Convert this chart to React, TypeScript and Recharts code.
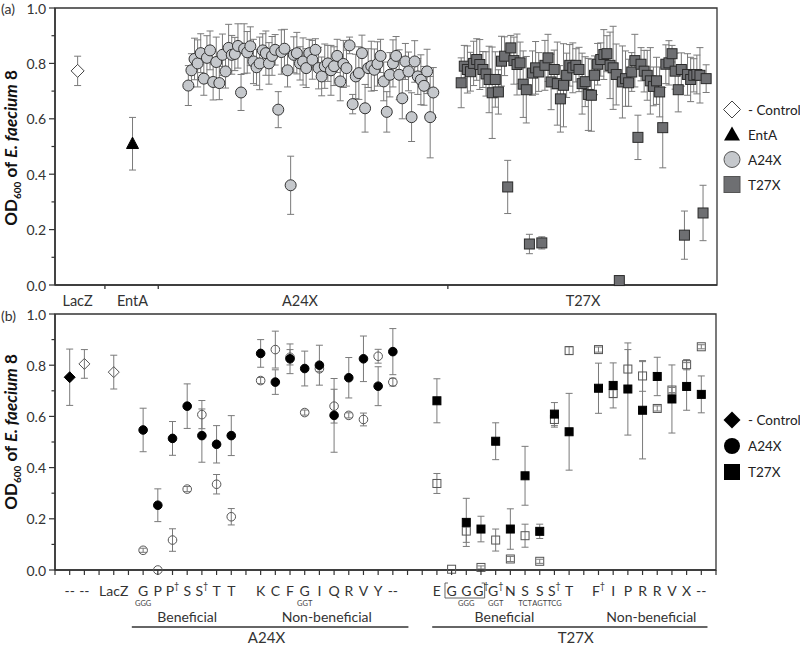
import React from 'react';
import { ScatterChart, Scatter, XAxis, YAxis, ErrorBar, ReferenceArea, Legend } from 'recharts';

const FONT = 'Lato, "Open Sans", sans-serif';
const AXIS = '#333';
const BAR = '#7a7a7a';

// ---------- Panel (a) ----------
const aControlX = [7.3];
const aControlY = [0.773];
const aControlErr = [0.053];
const aEntAX = [25];
const aEntAY = [0.51];
const aEntAErr = [0.095];
const a24xStart = 43;
const t27xStart = 131;
const a24xValues = [
  0.72, 0.775, 0.816, 0.8, 0.837, 0.745, 0.82, 0.847, 0.733, 0.805,
  0.729, 0.831, 0.771, 0.856, 0.831, 0.834, 0.863, 0.695, 0.853, 0.84,
  0.862, 0.807, 0.786, 0.8, 0.847, 0.837, 0.8, 0.827, 0.849, 0.633,
  0.841, 0.853, 0.775, 0.36, 0.831, 0.837, 0.8, 0.807, 0.783, 0.837,
  0.813, 0.849, 0.783, 0.753, 0.79, 0.8, 0.775, 0.79, 0.827, 0.735,
  0.798, 0.783, 0.865, 0.653, 0.753, 0.765, 0.837, 0.638, 0.783, 0.79,
  0.777, 0.798, 0.827, 0.735, 0.625, 0.759, 0.8, 0.827, 0.759, 0.674,
  0.807, 0.771, 0.606, 0.807, 0.753, 0.741, 0.719, 0.771, 0.606, 0.695,
];
const a24xErrors = [
  0.072, 0.06, 0.075, 0.085, 0.07, 0.06, 0.08, 0.07, 0.065, 0.09,
  0.06, 0.075, 0.06, 0.085, 0.07, 0.06, 0.08, 0.065, 0.09, 0.075,
  0.07, 0.08, 0.065, 0.095, 0.06, 0.08, 0.075, 0.07, 0.055, 0.065,
  0.08, 0.07, 0.06, 0.105, 0.065, 0.075, 0.06, 0.085, 0.07, 0.05,
  0.07, 0.04, 0.075, 0.07, 0.08, 0.065, 0.09, 0.07, 0.06, 0.07,
  0.085, 0.065, 0.03, 0.035, 0.08, 0.095, 0.065, 0.086, 0.07, 0.09,
  0.075, 0.08, 0.06, 0.07, 0.073, 0.08, 0.085, 0.07, 0.09, 0.074,
  0.065, 0.07, 0.088, 0.075, 0.065, 0.09, 0.07, 0.08, 0.147, 0.09,
];
const t27xValues = [
  0.73, 0.79, 0.778, 0.77, 0.8, 0.814, 0.796, 0.778, 0.762, 0.742,
  0.694, 0.742, 0.697, 0.808, 0.826, 0.354, 0.856, 0.81, 0.796, 0.802,
  0.725, 0.705, 0.148, 0.765, 0.784, 0.769, 0.152, 0.793, 0.82, 0.733,
  0.778, 0.727, 0.672, 0.721, 0.757, 0.793, 0.784, 0.793, 0.778, 0.727,
  0.734, 0.688, 0.685, 0.757, 0.797, 0.814, 0.832, 0.835, 0.793, 0.784,
  0.76, 0.016, 0.733, 0.745, 0.73, 0.769, 0.81, 0.533, 0.797, 0.772,
  0.757, 0.737, 0.717, 0.737, 0.697, 0.568, 0.797, 0.802, 0.835, 0.772,
  0.705, 0.778, 0.18, 0.76, 0.742, 0.757, 0.76, 0.757, 0.26, 0.745,
];
const t27xErrors = [
  0.09, 0.075, 0.085, 0.07, 0.08, 0.075, 0.09, 0.065, 0.08, 0.12,
  0.165, 0.1, 0.08, 0.09, 0.07, 0.096, 0.045, 0.085, 0.11, 0.075,
  0.12, 0.12, 0.035, 0.08, 0.095, 0.07, 0.022, 0.09, 0.085, 0.1,
  0.07, 0.15, 0.12, 0.15, 0.08, 0.075, 0.09, 0.06, 0.08, 0.11,
  0.09, 0.13, 0.13, 0.07, 0.075, 0.06, 0.09, 0.065, 0.12, 0.15,
  0.11, 0.008, 0.13, 0.1, 0.085, 0.07, 0.095, 0.08, 0.06, 0.075,
  0.09, 0.12, 0.07, 0.085, 0.09, 0.145, 0.07, 0.08, 0.03, 0.065,
  0.08, 0.06, 0.087, 0.075, 0.08, 0.06, 0.07, 0.1, 0.1, 0.05,
];
const aXMax = 213.5;
const aTickValues = [7.3, 16.1, 25, 33.3, 79, 126.7, 170.3];
const aTickLabels = ['LacZ', '', 'EntA', '', 'A24X', '', 'T27X'];
const yTicks = [0, 0.1, 0.2, 0.3, 0.4, 0.5, 0.6, 0.7, 0.8, 0.9, 1.0];

// ---------- Panel (b) ----------
const bCtrlFilledX = [1];
const bCtrlFilledY = [0.753];
const bCtrlFilledErr = [0.11];
const bCtrlOpenX = [2, 4];
const bCtrlOpenY = [0.805, 0.773];
const bCtrlOpenErr = [0.056, 0.066];

const bA24X = [6, 7, 8, 9, 10, 11, 12, 14, 15, 16, 17, 18, 19, 20, 21, 22, 23];
const bA24FilledY = [0.547, 0.253, 0.514, 0.64, 0.525, 0.491, 0.525, 0.846, 0.734, 0.825, 0.787, 0.8, 0.604, 0.751, 0.825, 0.718, 0.853];
const bA24FilledErr = [0.085, 0.064, 0.066, 0.087, 0.104, 0.073, 0.078, 0.054, 0.048, 0.058, 0.068, 0.078, 0.144, 0.079, 0.089, 0.076, 0.09];
const bA24OpenY = [0.077, 0.0, 0.117, 0.316, 0.607, 0.335, 0.208, 0.74, 0.861, 0.831, 0.615, 0.786, 0.64, 0.604, 0.588, 0.835, 0.734];
const bA24OpenErr = [0.008, 0.0, 0.044, 0.01, 0.055, 0.038, 0.032, 0.012, 0.072, 0.03, 0.01, 0.01, 0.066, 0.01, 0.025, 0.027, 0.015];

const bT27FilledX = [26, 28, 29, 30, 31, 32, 33, 34, 35, 37, 38, 39, 40, 41, 42, 43, 44];
const bT27FilledY = [0.661, 0.186, 0.16, 0.503, 0.16, 0.368, 0.151, 0.609, 0.54, 0.71, 0.721, 0.707, 0.624, 0.756, 0.668, 0.717, 0.686];
const bT27FilledErr = [0.086, 0.094, 0.05, 0.072, 0.079, 0.115, 0.028, 0.045, 0.15, 0.098, 0.088, 0.18, 0.19, 0.075, 0.133, 0.093, 0.072];
const bT27OpenX = [26, 27, 28, 29, 30, 31, 32, 33, 34, 35, 37, 38, 39, 40, 41, 42, 43, 44];
const bT27OpenY = [0.338, 0.003, 0.152, 0.01, 0.117, 0.043, 0.134, 0.034, 0.588, 0.857, 0.861, 0.689, 0.785, 0.758, 0.631, 0.703, 0.802, 0.872];
const bT27OpenErr = [0.039, 0, 0.044, 0.006, 0.043, 0.01, 0.045, 0.008, 0.03, 0.015, 0.01, 0.015, 0.076, 0.06, 0.01, 0.01, 0.02, 0.008];

const bXMax = 45;
const bTickLabels = [
  '', '--', '--', '', 'LacZ', '', 'G', 'P', 'P†', 'S', 'S†', 'T', 'T', '', 'K', 'C',
  'F', 'G', 'I', 'Q', 'R', 'V', 'Y', '--', '', '', 'E', 'G', 'G', 'G†', 'G†', 'N',
  'S', 'S', 'S†', 'T', '', 'F†', 'I', 'P', 'R', 'R', 'V', 'X', '--', '',
];
const bSubLabels: Record<number, string> = { 6: 'GGG', 17: 'GGT', 28: 'GGG', 30: 'GGT', 32: 'TCT', 33: 'AGT', 34: 'TCG' };
const bGroupLabels = [
  { label: 'Beneficial', center: 9 },
  { label: 'Non-beneficial', center: 18.5 },
  { label: 'Beneficial', center: 30.6 },
  { label: 'Non-beneficial', center: 40.6 },
];
const bMutantLabels = [
  { label: 'A24X', from: 5.23, to: 24.06, center: 14.4 },
  { label: 'T27X', from: 25.68, to: 44.42, center: 35.45 },
];
const bBracket = { from: 26.55, to: 29.25 };

const zip = (xs: number[], ys: number[], es: number[]) => ys.map((y, i) => ({ x: xs[i], y, err: es[i] }));
const seq = (start: number, ys: number[], es: number[]) => ys.map((y, i) => ({ x: start + i, y, err: es[i] }));

// ---------- shapes ----------
const circle = (r: number, fill: string, stroke: string) => (p: any) => (
  <circle cx={p.cx} cy={p.cy} r={r} fill={fill} stroke={stroke} strokeWidth={1} />
);
const square = (s: number, fill: string, stroke: string) => (p: any) => (
  <rect x={p.cx - s / 2} y={p.cy - s / 2} width={s} height={s} fill={fill} stroke={stroke} strokeWidth={1} />
);
const diamond = (h: number, fill: string, stroke: string) => (p: any) => (
  <path d={`M${p.cx},${p.cy - h}L${p.cx + h},${p.cy}L${p.cx},${p.cy + h}L${p.cx - h},${p.cy}Z`} fill={fill} stroke={stroke} strokeWidth={1} />
);
const triangle = (w: number, fill: string) => (p: any) => (
  <path d={`M${p.cx},${p.cy - w * 0.55}L${p.cx + w / 2},${p.cy + w * 0.4}L${p.cx - w / 2},${p.cy + w * 0.4}Z`} fill={fill} stroke={fill} />
);

// ---------- ticks ----------
const YTick = (props: any) => {
  const { x, y, payload } = props;
  const v = payload.value;
  const major = Math.round(v * 10) % 2 === 0;
  return (
    <g>
      <line x1={x - (major ? 6 : 3.5)} x2={x} y1={y} y2={y} stroke={AXIS} strokeWidth={1.2} />
      {major && (
        <text x={x - 9} y={y} textAnchor="end" dominantBaseline="central" fontSize={14} fill="#333" fontFamily={FONT}>
          {v.toFixed(1)}
        </text>
      )}
    </g>
  );
};

const ATick = (props: any) => {
  const { x, y, payload } = props;
  const i = aTickValues.indexOf(payload.value);
  const label = aTickLabels[i];
  if (!label) return <line x1={x} x2={x} y1={y} y2={y + 4} stroke={AXIS} strokeWidth={1.3} />;
  return (
    <text x={x} y={y + 15} textAnchor="middle" dominantBaseline="central" fontSize={14.5} fill="#333" fontFamily={FONT}>
      {label}
    </text>
  );
};

const B_STEP = (800 - 55 - 84) / bXMax;

const BTick = (props: any) => {
  const { x, y, payload } = props;
  const v = payload.value as number;
  const label = bTickLabels[v] || '';
  const sub = bSubLabels[v];
  const dagger = label.endsWith('†');
  const base = dagger ? label.slice(0, -1) : label;
  const x0 = x - v * B_STEP;
  return (
    <g>
      <line x1={x} x2={x} y1={y} y2={y + 5} stroke={AXIS} strokeWidth={1.2} />
      {label && (
        <text x={x} y={y + 20} textAnchor="middle" dominantBaseline="central" fontSize={14} fill="#333" fontFamily={FONT}>
          {base}
          {dagger && (
            <tspan fontSize={9} dy={-5}>
              †
            </tspan>
          )}
        </text>
      )}
      {sub && (
        <text x={x} y={y + 33} textAnchor="middle" dominantBaseline="central" fontSize={7.5} fill="#444" fontFamily={FONT}>
          {sub}
        </text>
      )}
      {v === 0 && (
        <g>
          {bGroupLabels.map((g, i) => (
            <text key={'g' + i} x={x0 + g.center * B_STEP} y={y + 46} textAnchor="middle" dominantBaseline="central" fontSize={14} fill="#333" fontFamily={FONT}>
              {g.label}
            </text>
          ))}
          {bMutantLabels.map((m, i) => (
            <g key={'m' + i}>
              <line x1={x0 + m.from * B_STEP} x2={x0 + m.to * B_STEP} y1={y + 57} y2={y + 57} stroke={AXIS} strokeWidth={1.5} />
              <text x={x0 + m.center * B_STEP} y={y + 67} textAnchor="middle" dominantBaseline="central" fontSize={15} fill="#333" fontFamily={FONT}>
                {m.label}
              </text>
            </g>
          ))}
          <path
            d={`M${x0 + bBracket.from * B_STEP + 3},${y + 13}h-3v15h${(bBracket.to - bBracket.from) * B_STEP}v-15h-3`}
            fill="none"
            stroke="#555"
            strokeWidth={0.9}
          />
        </g>
      )}
    </g>
  );
};

// ---------- legends ----------
type LegendItem = { label: string; icon: React.ReactNode };
const LegendBox = ({ items, rowH }: { items: LegendItem[]; rowH: number }) => (
  <svg width={90} height={items.length * rowH} style={{ overflow: 'visible', display: 'block' }}>
    {items.map((it, i) => (
      <g key={i} transform={`translate(10, ${i * rowH + rowH / 2})`}>
        {it.icon}
        <text x={16} y={0} dominantBaseline="central" fontSize={13.5} fill="#222" fontFamily={FONT}>
          {it.label}
        </text>
      </g>
    ))}
  </svg>
);

const legendAItems: LegendItem[] = [
  { label: '- Control', icon: <path d="M0,-8.5L8.5,0L0,8.5L-8.5,0Z" fill="#fff" stroke="#444" /> },
  { label: 'EntA', icon: <path d="M0,-8L8,6L-8,6Z" fill="#000" /> },
  { label: 'A24X', icon: <circle r={8} fill="#c5c8cc" stroke="#555" /> },
  { label: 'T27X', icon: <rect x={-8} y={-8} width={16} height={16} fill="#6e6f72" stroke="#555" /> },
];
const legendBItems: LegendItem[] = [
  { label: '- Control', icon: <path d="M0,-8.5L8.5,0L0,8.5L-8.5,0Z" fill="#000" /> },
  { label: 'A24X', icon: <circle r={8} fill="#000" /> },
  { label: 'T27X', icon: <rect x={-8} y={-8} width={16} height={16} fill="#000" /> },
];

const EB = (w: number) => (
  <ErrorBar dataKey="err" direction="y" width={w} stroke={BAR} strokeWidth={1} isAnimationActive={false} />
);

export default function App() {
  const a24 = seq(a24xStart, a24xValues, a24xErrors);
  const t27 = seq(t27xStart, t27xValues, t27xErrors);
  const lacz = zip(aControlX, aControlY, aControlErr);
  const enta = zip(aEntAX, aEntAY, aEntAErr);

  const bCtrlF = zip(bCtrlFilledX, bCtrlFilledY, bCtrlFilledErr);
  const bCtrlO = zip(bCtrlOpenX, bCtrlOpenY, bCtrlOpenErr);
  const bA24F = zip(bA24X, bA24FilledY, bA24FilledErr);
  const bA24O = zip(bA24X, bA24OpenY, bA24OpenErr);
  const bT27F = zip(bT27FilledX, bT27FilledY, bT27FilledErr);
  const bT27O = zip(bT27OpenX, bT27OpenY, bT27OpenErr);
  const bTicks = bTickLabels.map((_, i) => i);

  return (
    <div style={{ position: 'absolute', left: 0, top: 0, width: 800, height: 645, overflow: 'hidden', background: '#fff', fontFamily: FONT }}>
      <div style={{ position: 'absolute', left: 0, top: 305 }}>
        <ScatterChart width={800} height={340} margin={{ top: 9, right: 84, bottom: 0, left: 0 }}>
          <XAxis type="number" dataKey="x" domain={[0, bXMax]} ticks={bTicks} interval={0} tick={<BTick />} tickLine={false} tickSize={0} tickMargin={0} height={75} axisLine={{ stroke: AXIS, strokeWidth: 1.5 }} />
          <YAxis type="number" dataKey="y" domain={[0, 1]} ticks={yTicks} interval={0} tick={<YTick />} tickLine={false} tickSize={0} tickMargin={0} width={55} axisLine={{ stroke: AXIS, strokeWidth: 1.5 }} />
          <ReferenceArea x1={0} x2={bXMax} y1={0} y2={1} fill="none" stroke={AXIS} strokeWidth={1.3} />
          <Scatter data={bCtrlO} shape={diamond(5.5, 'none', '#555')} isAnimationActive={false}>{EB(3.5)}</Scatter>
          <Scatter data={bA24O} shape={circle(4.3, 'none', '#555')} isAnimationActive={false}>{EB(3.5)}</Scatter>
          <Scatter data={bT27O} shape={square(8, 'none', '#555')} isAnimationActive={false}>{EB(3.5)}</Scatter>
          <Scatter data={bCtrlF} shape={diamond(5.5, '#000', '#000')} isAnimationActive={false}>{EB(3.5)}</Scatter>
          <Scatter data={bA24F} shape={circle(4.3, '#000', '#000')} isAnimationActive={false}>{EB(3.5)}</Scatter>
          <Scatter data={bT27F} shape={square(8, '#000', '#000')} isAnimationActive={false}>{EB(3.5)}</Scatter>
          <Legend layout="horizontal" verticalAlign="middle" align="center" wrapperStyle={{ position: 'absolute', left: 722, top: 102, width: 90 }} content={() => <LegendBox items={legendBItems} rowH={26} />} />
        </ScatterChart>
      </div>
      <div style={{ position: 'absolute', left: 0, top: 0 }}>
        <ScatterChart width={800} height={312} margin={{ top: 8, right: 83, bottom: 7, left: 0 }}>
          <XAxis type="number" dataKey="x" domain={[0, aXMax]} ticks={aTickValues} interval={0} tick={<ATick />} tickLine={false} tickSize={0} tickMargin={0} height={20} axisLine={{ stroke: AXIS, strokeWidth: 1.5 }} />
          <YAxis type="number" dataKey="y" domain={[0, 1]} ticks={yTicks} interval={0} tick={<YTick />} tickLine={false} tickSize={0} tickMargin={0} width={55} axisLine={{ stroke: AXIS, strokeWidth: 1.5 }} />
          <ReferenceArea x1={0} x2={aXMax} y1={0} y2={1} fill="none" stroke={AXIS} strokeWidth={1.3} />
          <Scatter data={a24} shape={circle(5.5, '#c5c8cc', '#333')} isAnimationActive={false}>{EB(3.5)}</Scatter>
          <Scatter data={t27} shape={square(10, '#6e6f72', '#2a2a2a')} isAnimationActive={false}>{EB(3.5)}</Scatter>
          <Scatter data={lacz} shape={diamond(6.5, '#fff', '#444')} isAnimationActive={false}>{EB(3.5)}</Scatter>
          <Scatter data={enta} shape={triangle(12, '#000')} isAnimationActive={false}>{EB(3.5)}</Scatter>
          <Legend layout="horizontal" verticalAlign="middle" align="center" wrapperStyle={{ position: 'absolute', left: 722, top: 97, width: 90 }} content={() => <LegendBox items={legendAItems} rowH={25} />} />
        </ScatterChart>
      </div>
      <svg width={800} height={645} style={{ position: 'absolute', left: 0, top: 0, pointerEvents: 'none' }}>
        <text x={1} y={8} dominantBaseline="central" fontSize={14} fill="#333" fontFamily={FONT}>(a)</text>
        <text x={1} y={315} dominantBaseline="central" fontSize={14} fill="#333" fontFamily={FONT}>(b)</text>
        {[148, 432].map((cy, i) => (
          <text key={i} transform={`translate(17, ${cy}) rotate(-90)`} textAnchor="middle" fontSize={17} fontWeight="bold" fill="#111" fontFamily={FONT}>
            OD<tspan fontSize={10} dy={4}>600</tspan>
            <tspan dy={-4}> of </tspan>
            <tspan fontStyle="italic">E. faecium</tspan>
            <tspan> 8</tspan>
          </text>
        ))}
      </svg>
    </div>
  );
}
